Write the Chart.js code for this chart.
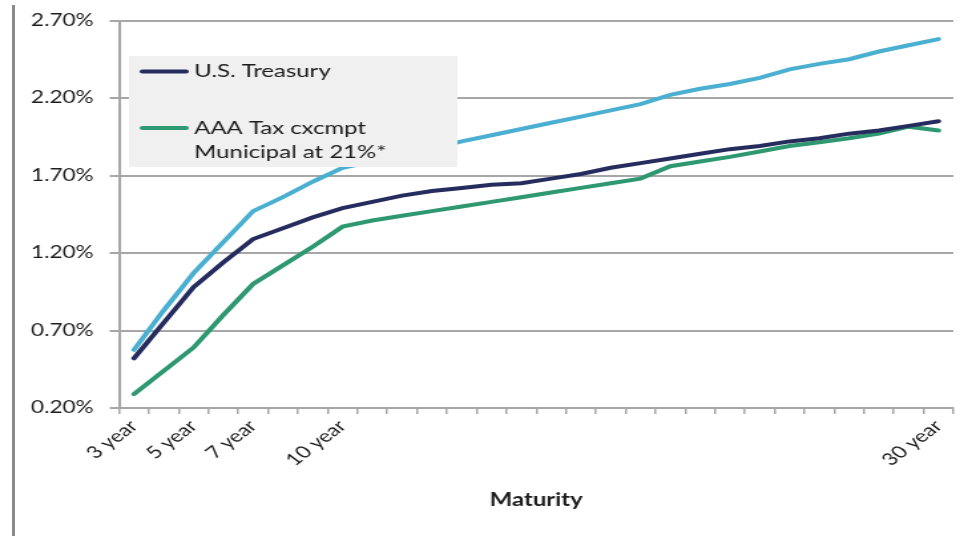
<!DOCTYPE html>
<html>
<head>
<meta charset="utf-8">
<script src="https://cdn.jsdelivr.net/npm/chart.js@4"></script>
<style>
	html, body { margin: 0; padding: 0; background: #fff; overflow: hidden; }
	#page { position: relative; width: 964px; height: 536px; }
	#bar { position: absolute; left: 12px; top: 5px; width: 3px; height: 531px; background: #8a8a8a; }
	/* 원본 그림이 가로로 늘어나 있어서 캔버스도 가로로 늘려서 보여줌 */
	#wrap { position: absolute; left: 0; top: 0; width: 725px; height: 536px; transform: scaleX(1.3297); transform-origin: 0 0; }
</style>
</head>
<body>
<div id="page">
	<div id="bar"></div>
	<div id="wrap"><canvas id="yieldChart" width="725" height="536"></canvas></div>
</div>
<script>
// 만기 (년)
const maturities = [3, 4, 5, 6, 7, 8, 9, 10, 11, 12, 13, 14, 15, 16, 17, 18, 19, 20, 21, 22, 23, 24, 25, 26, 27, 28, 29, 30];
const shownLabels = ['3 year', '5 year', '7 year', '10 year', '30 year'];
const yTickValues = [0.2, 0.7, 1.2, 1.7, 2.2, 2.7];

// 수익률 (%)
const treasury = [0.52, 0.75, 0.98, 1.14, 1.29, 1.36, 1.43, 1.49, 1.53, 1.57, 1.60, 1.62, 1.64, 1.65, 1.68, 1.71, 1.75, 1.78, 1.81, 1.84, 1.87, 1.89, 1.92, 1.94, 1.97, 1.99, 2.02, 2.05];
const municipal = [0.29, 0.44, 0.59, 0.80, 1.00, 1.12, 1.24, 1.37, 1.41, 1.44, 1.47, 1.50, 1.53, 1.56, 1.59, 1.62, 1.65, 1.68, 1.76, 1.79, 1.82, 1.855, 1.89, 1.915, 1.94, 1.97, 2.015, 1.99];
const taxEquivalent = [0.575, 0.83, 1.07, 1.27, 1.47, 1.56, 1.66, 1.75, 1.79, 1.83, 1.87, 1.92, 1.96, 2.00, 2.04, 2.08, 2.12, 2.16, 2.22, 2.26, 2.29, 2.33, 2.385, 2.42, 2.45, 2.50, 2.54, 2.58];

const legendItems = [
	{ text: ['U.S. Treasury'], color: '#262d5e', y: 71.5 },
	{ text: ['AAA Tax cxcmpt', 'Municipal at 21%*'], color: '#2e9871', y: 128 }
];

const gridColor = '#a6a6a6';
const textColor = '#1c1c1c';
const fontFamily = 'Lato, "Noto Sans", sans-serif';

// 차트 안쪽 범례 (회색 박스)
const insideLegend = {
	id: 'insideLegend',
	afterDatasetsDraw(chart) {
		const ctx = chart.ctx;
		ctx.save();
		ctx.fillStyle = '#f0f0f0';
		ctx.fillRect(97, 56, 247, 111);
		ctx.font = '18px ' + fontFamily;
		ctx.textBaseline = 'middle';
		ctx.textAlign = 'left';
		legendItems.forEach(item => {
			ctx.strokeStyle = item.color;
			ctx.lineWidth = 4;
			ctx.lineCap = 'round';
			ctx.beginPath();
			ctx.moveTo(107, item.y);
			ctx.lineTo(140, item.y);
			ctx.stroke();
			ctx.fillStyle = textColor;
			item.text.forEach((t, i) => ctx.fillText(t, 146, item.y + i * 24));
		});
		ctx.restore();
	}
};

const ctx = document.getElementById('yieldChart').getContext('2d');
const yieldChart = new Chart(ctx, {
	type: 'line',
	data: {
		labels: maturities.map(m => m + ' year'),
		datasets: [
			{
				label: 'U.S. Treasury',
				data: treasury,
				borderColor: '#262d5e',
				borderWidth: 4
			},
			{
				label: 'AAA Tax cxcmpt Municipal at 21%*',
				data: municipal,
				borderColor: '#2e9871',
				borderWidth: 4
			},
			{
				label: 'Tax equivalent',
				data: taxEquivalent,
				borderColor: '#4aafd0',
				borderWidth: 4
			}
		]
	},
	options: {
		responsive: false,
		animation: false,
		devicePixelRatio: 1,
		elements: {
			point: { radius: 0 },
			line: { tension: 0, borderCapStyle: 'round' }
		},
		layout: {
			padding: { left: 0, right: 8, top: 18, bottom: 0 }
		},
		plugins: {
			legend: { display: false },
			tooltip: { enabled: false }
		},
		scales: {
			x: {
				offset: true,
				afterFit: scale => { scale.height = 128; },
				grid: {
					offset: true,
					drawOnChartArea: false,
					drawTicks: true,
					tickLength: 6,
					color: gridColor,
					lineWidth: 1.5
				},
				border: { color: gridColor, width: 2 },
				ticks: {
					autoSkip: false,
					maxRotation: 45,
					minRotation: 45,
					padding: 2,
					color: textColor,
					font: { family: fontFamily, size: 17 },
					callback: function(value) {
						const label = this.getLabelForValue(value);
						return shownLabels.includes(label) ? label : '';
					}
				},
				title: {
					display: true,
					text: 'Maturity',
					color: textColor,
					font: { family: fontFamily, size: 18, weight: 'bold' },
					padding: { top: 4, bottom: 25 }
				}
			},
			y: {
				min: 0.2,
				max: 2.7,
				afterFit: scale => { scale.width = 89.5; },
				afterBuildTicks: scale => { scale.ticks = yTickValues.map(v => ({ value: v })); },
				grid: {
					color: gridColor,
					lineWidth: 2,
					tickLength: 7
				},
				border: { color: gridColor, width: 2 },
				ticks: {
					padding: 12,
					color: textColor,
					font: { family: fontFamily, size: 17, lineHeight: 1 },
					callback: value => value.toFixed(2) + '%'
				}
			}
		}
	},
	plugins: [insideLegend]
});
</script>
</body>
</html>
